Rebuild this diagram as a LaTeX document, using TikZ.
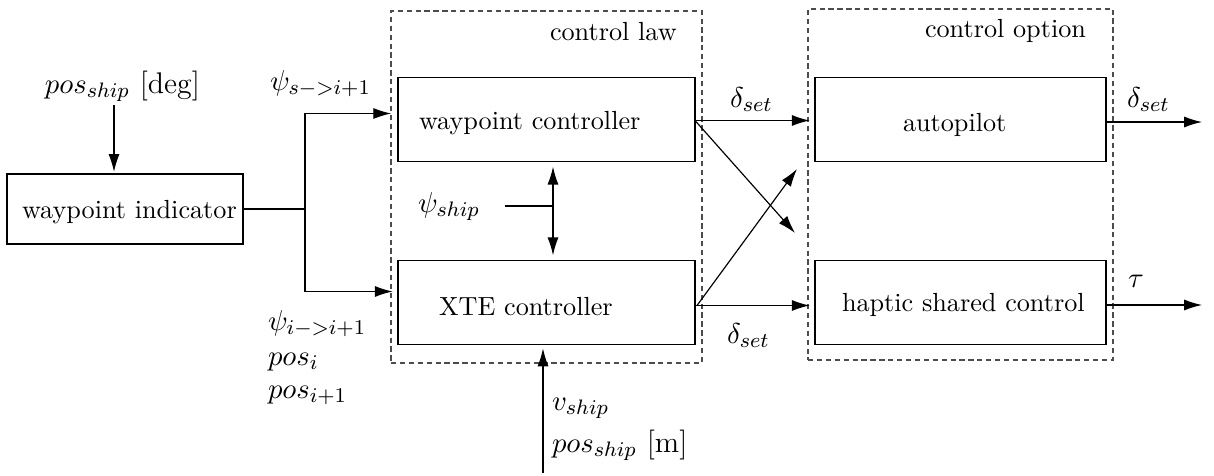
\documentclass[tikz,border=0pt]{standalone}
\usetikzlibrary{arrows.meta,calc}
\begin{document}
\def\u{0.3817pt}
\begin{tikzpicture}[x=\u,y=-\u,
  every node/.style={inner sep=0pt,outer sep=0pt},
  blockbox/.style={draw,line width=0.45pt,rectangle},
  groupbox/.style={draw=black!70,line width=0.45pt,dash pattern=on 2pt off 1.4pt,rectangle},
  lbl/.style={anchor=base west},
  sig/.style={anchor=base west,font=\fontsize{11.4pt}{14pt}\selectfont},
  wire/.style={line width=0.45pt},
  arr/.style={wire,-{Latex[length=6.8pt,width=4.2pt]}},
  dblarr/.style={wire,{Latex[length=6.8pt,width=4.2pt]}-{Latex[length=6.8pt,width=4.2pt]}}]
\useasboundingbox (0,0) rectangle (1214,475);

% dashed groups
\node[groupbox,minimum width={311*\u},minimum height={352*\u}] (law) at (546.5,187) {};
\node[groupbox,minimum width={305*\u},minimum height={351*\u}] (opt) at (960.5,184.5) {};
\node[lbl] (lawt) at (550,40) {control law};
\node[lbl] (optt) at (925,37) {control option};

% blocks
\node[blockbox,minimum width={236*\u},minimum height={70*\u}] (wi) at (125,209) {};
\node[lbl] (wit) at (22,218) {waypoint indicator};
\node[blockbox,minimum width={297*\u},minimum height={84*\u}] (wc) at (546.5,119.5) {};
\node[lbl] (wct) at (419,129) {waypoint controller};
\node[blockbox,minimum width={297*\u},minimum height={84*\u}] (xte) at (546.5,302.5) {};
\node[lbl] (xtet) at (439,315) {XTE controller};
\node[blockbox,minimum width={291*\u},minimum height={84*\u}] (ap) at (960.5,119.5) {};
\node[lbl] (apt) at (903,131) {autopilot};
\node[blockbox,minimum width={291*\u},minimum height={84*\u}] (hsc) at (960.5,302.5) {};
\node[lbl] (hsct) at (842,311) {haptic shared control};

% signal labels
\node[sig] (posdeg) at (45,93) {$pos_{ship}$ [deg]};
\node[sig] (psis) at (270,90) {$\psi_{s->i+1}$};
\node[sig] (psii) at (268,330) {$\psi_{i->i+1}$};
\node[sig] (posi) at (268,365) {$pos_{i}$};
\node[sig] (posii) at (268,398) {$pos_{i+1}$};
\node[sig] (psiship) at (418,212) {$\psi_{ship}$};
\node[sig] (vship) at (552,410) {$v_{ship}$};
\node[sig] (posm) at (552,452) {$pos_{ship}$ [m]};
\node[sig] (d1) at (730,107) {$\delta_{set}$};
\node[sig] (d2) at (727,343) {$\delta_{set}$};
\node[sig] (d3) at (1127,107) {$\delta_{set}$};
\node[sig] (tau) at (1128,287) {$\tau$};

% helper points
\coordinate (posin) at (114,105);
\coordinate (split) at (305,209);
\coordinate (dv) at (553,206);
\coordinate (psij) at (505,206);
\coordinate (vin) at (543,473);
\coordinate (x1) at (795,233);
\coordinate (x2) at (797,169);
\coordinate (apout) at (1202,122);
\coordinate (hscout) at (1202,305);

% connectors
\draw[arr,shorten >=0.8pt] (posin) -- (posin |- wi.north);
\draw[wire] (wi.east) -- (split);
\draw[arr,shorten >=2.6pt] (split) |- ($(wc.west)+(0,-6)$);
\draw[arr,shorten >=2pt] (split) |- ($(xte.west)+(0,-11)$);
\draw[dblarr,shorten >=2pt,shorten <=2pt] (dv |- wc.south) -- (dv |- xte.north);
\draw[wire] (psij) -- (dv);
\draw[arr,shorten >=1.5pt] (vin) -- (vin |- xte.south);
\draw[arr,shorten >=2pt] ($(wc.east)+(0,1)$) -- ($(wc.east -| ap.west)+(0,1)$);
\draw[arr] ($(wc.east)+(0,1)$) -- (x1);
\draw[arr] ($(xte.east)+(2,3)$) -- (x2);
\draw[arr,shorten >=2pt] ($(xte.east)+(0,3)$) -- ($(xte.east -| hsc.west)+(0,3)$);
\draw[arr] (ap.east |- apout) -- (apout);
\draw[arr] (hsc.east |- hscout) -- (hscout);
\end{tikzpicture}
\end{document}
